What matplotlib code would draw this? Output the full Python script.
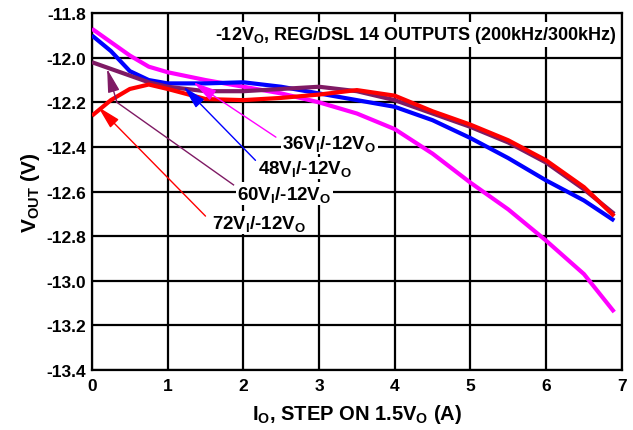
import numpy as np
import matplotlib.pyplot as plt

plt.rcParams['font.family'] = ['Liberation Sans', 'DejaVu Sans']
plt.rcParams['font.weight'] = 'bold'
plt.rcParams['mathtext.fontset'] = 'custom'
plt.rcParams['mathtext.rm'] = 'Liberation Sans:weight=bold'
plt.rcParams['mathtext.it'] = 'Liberation Sans:weight=bold'
plt.rcParams['mathtext.bf'] = 'Liberation Sans:weight=bold'
plt.rcParams['mathtext.default'] = 'regular'

# load current (A)
io = [0, 0.25, 0.5, 0.75, 1, 1.5, 2, 2.5, 3, 3.5, 4, 4.5, 5, 5.5, 6, 6.5, 6.9]

# output voltage per input voltage
v36 = [-11.87, -11.93, -11.99, -12.04, -12.065, -12.10, -12.13, -12.16, -12.20,
       -12.25, -12.32, -12.43, -12.56, -12.68, -12.82, -12.97, -13.14]
v48 = [-11.90, -11.97, -12.06, -12.10, -12.115, -12.115, -12.11, -12.13, -12.16,
       -12.19, -12.22, -12.28, -12.36, -12.45, -12.55, -12.64, -12.73]
v60 = [-12.02, -12.05, -12.08, -12.11, -12.13, -12.15, -12.15, -12.14, -12.13,
       -12.15, -12.19, -12.25, -12.31, -12.38, -12.47, -12.59, -12.70]
v72 = [-12.26, -12.19, -12.14, -12.12, -12.14, -12.185, -12.19, -12.18, -12.165,
       -12.145, -12.17, -12.24, -12.30, -12.37, -12.46, -12.58, -12.71]

labels = ['36V$_I$/-12V$_O$', '48V$_I$/-12V$_O$', '60V$_I$/-12V$_O$', '72V$_I$/-12V$_O$']
colors = ['#ff00ff', '#0000ff', '#7f1a64', '#ff0000']

fig = plt.figure(figsize=(6.33, 4.31), dpi=100)
ax = fig.add_axes([0.1453, 0.1392, 0.837, 0.828])

for ys, c in zip([v36, v48, v60, v72], colors):
    ax.plot(io, ys, color=c, lw=3, solid_capstyle='butt', zorder=3)

yt = np.arange(-13.4, -11.79, 0.2)
ax.set_xlim(0, 7)
ax.set_ylim(-13.4, -11.8)
ax.set_xticks(np.arange(0, 8, 1))
ax.set_xticklabels([str(i) for i in range(8)], fontweight='bold')
ax.set_yticks(yt)
ax.set_yticklabels([f'{t:.1f}'.replace('\u2212', '-') for t in yt], fontweight='bold')
ax.tick_params(length=0, labelsize=12.5)
ax.tick_params(axis='y', pad=4)
ax.tick_params(axis='x', pad=6)
ax.grid(True, color='black', lw=1.6, zorder=1)
for s in ax.spines.values():
    s.set_linewidth(1.6)

ax.set_xlabel('I$_O$, STEP ON 1.5V$_O$ (A)', fontsize=14.5, fontweight='bold', labelpad=6)
ax.set_ylabel('V$_{OUT}$ (V)', fontsize=15, fontweight='bold', labelpad=3)

ax.text(0.9906, 0.927, '-12V$_O$, REG/DSL 14 OUTPUTS (200kHz/300kHz)', transform=ax.transAxes,
        ha='right', va='baseline', fontsize=13, fontweight='bold',
        bbox=dict(facecolor='white', edgecolor='none', pad=1.5), zorder=4)

# annotation label positions, arrow starts and arrow tips
text_pos = [(2.51, -12.38), (2.20, -12.495), (1.92, -12.61), (1.59, -12.74)]
start_pos = [(2.43, -12.356), (2.16, -12.46), (1.87, -12.57), (1.50, -12.71)]
tip_pos = [(1.34, -12.11), (1.21, -12.13), (0.2, -12.05), (0.08, -12.22)]
kink = (0.33, -12.20)

bb = dict(facecolor='white', edgecolor='none', pad=1)
for i, (lab, c, tp, st, tip) in enumerate(zip(labels, colors, text_pos, start_pos, tip_pos)):
    ax.text(tp[0], tp[1], lab, ha='left', va='center', fontsize=13.5, fontweight='bold',
            bbox=bb, zorder=5)
    if i == 2:
        ax.plot([st[0], kink[0]], [st[1], kink[1]], color=c, lw=1, zorder=4)
        st = kink
    ax.annotate('', xy=tip, xytext=st,
                arrowprops=dict(arrowstyle='-|>,head_length=0.8,head_width=0.2', color=c,
                                lw=1, mutation_scale=18, shrinkA=0, shrinkB=0), zorder=4)

fig.savefig('out.png', dpi=100)
